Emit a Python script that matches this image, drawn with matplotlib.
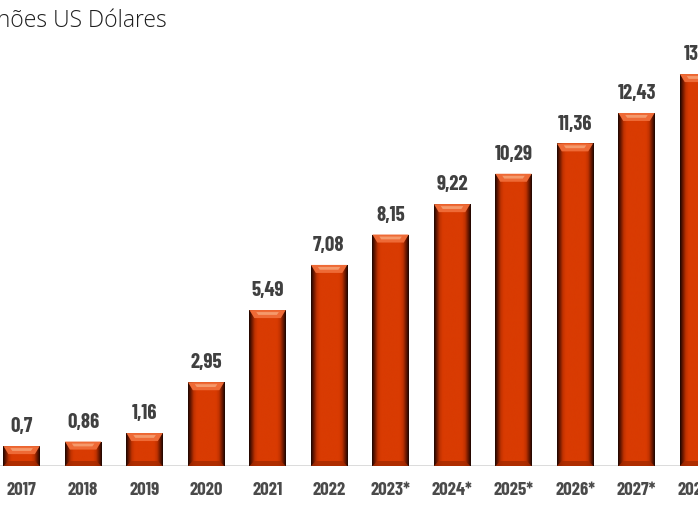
import matplotlib
matplotlib.use("Agg")
import matplotlib.pyplot as plt
import numpy as np
from matplotlib.colors import LinearSegmentedColormap
from matplotlib.patches import Polygon

# data (2028* is cut off at the right edge)
years = ['2017', '2018', '2019', '2020', '2021', '2022', '2023*', '2024*',
         '2025*', '2026*', '2027*', '2028*']
values = [0.7, 0.86, 1.16, 2.95, 5.49, 7.08, 8.15, 9.22, 10.29, 11.36, 12.43, 13.8]
labels = ['0,7', '0,86', '1,16', '2,95', '5,49', '7,08', '8,15', '9,22',
          '10,29', '11,36', '12,43', '13,8']

W, H = 698, 514
fig = plt.figure(figsize=(W / 100, H / 100), dpi=100)
base_px = 48          # baseline distance from bottom, pixels
ax = fig.add_axes([0, base_px / H, 1, 1 - base_px / H])

px_x = 62.6           # pixels per category
px_y = 28.4           # pixels per unit
x0_px = 22            # centre of first bar
ax.set_xlim(-x0_px / px_x, (W - x0_px) / px_x)
ax.set_ylim(0, (H - base_px) / px_y)

x = np.arange(len(years))
width = 0.59
bars = ax.bar(x, values, width=width, color='#d83a00', zorder=2)

side = LinearSegmentedColormap.from_list('side', [
    (0.0, '#1a0500'), (0.06, '#5a1400'), (0.16, '#c23200'), (0.24, '#d93b02'),
    (0.76, '#d93b02'), (0.84, '#c23200'), (0.94, '#5a1400'), (1.0, '#1a0500')])
grad = np.linspace(0, 1, 256)[None, :]

dx = 5 / px_x
dy_top = 8 / px_y
dy_bot = 5 / px_y
for b in bars:
    bx, bw, bh = b.get_x(), b.get_width(), b.get_height()
    im = ax.imshow(grad, extent=[bx, bx + bw, 0, bh], cmap=side,
                   aspect='auto', zorder=3)
    im.set_clip_path(b)
    top = Polygon([(bx, bh), (bx + bw, bh), (bx + bw - dx, bh - dy_top),
                   (bx + dx, bh - dy_top)], closed=True,
                  facecolor='#ee6a36', edgecolor='none', zorder=4)
    ax.add_patch(top)
    hi = Polygon([(bx + dx * 1.4, bh - dy_top * 0.25), (bx + bw - dx * 1.4, bh - dy_top * 0.25),
                  (bx + bw - dx * 1.8, bh - dy_top * 0.6), (bx + dx * 1.8, bh - dy_top * 0.6)],
                 closed=True, facecolor='#f59a6c', edgecolor='none', zorder=4)
    ax.add_patch(hi)
    bot = Polygon([(bx, 0), (bx + bw, 0), (bx + bw - dx, dy_bot), (bx + dx, dy_bot)],
                  closed=True, facecolor='#a52a00', edgecolor='none', zorder=4, alpha=0.8)
    ax.add_patch(bot)

ax.set_xlim(-x0_px / px_x, (W - x0_px) / px_x)
ax.set_ylim(0, (H - base_px) / px_y)

narrow = ['Barlow Condensed', 'PT Sans Narrow', 'DejaVu Sans']
for xi, v, lab in zip(x, values, labels):
    ax.annotate(lab, (xi, v), xytext=(0, 7), textcoords='offset points',
                ha='center', va='bottom', fontsize=15, fontweight='bold',
                color='#404040', family=narrow, zorder=5)

ax.axhline(0, color='#d9d9d9', lw=1.3, zorder=1)
for s in ax.spines.values():
    s.set_visible(False)
ax.set_yticks([])
ax.set_xticks(x)
ax.set_xticklabels(years, fontsize=13.5, fontweight='bold', color='#4a4a4a',
                   family=narrow, va='baseline')
ax.tick_params(axis='x', length=0, pad=21)

fig.text(167 / W, 1 - 27 / H, 'Bilhões US Dólares', ha='right', va='baseline',
         fontsize=16.5, fontweight='light', color='#1e1e1e',
         family=['Open Sans', 'DejaVu Sans'])

fig.savefig('out.png', dpi=100)
